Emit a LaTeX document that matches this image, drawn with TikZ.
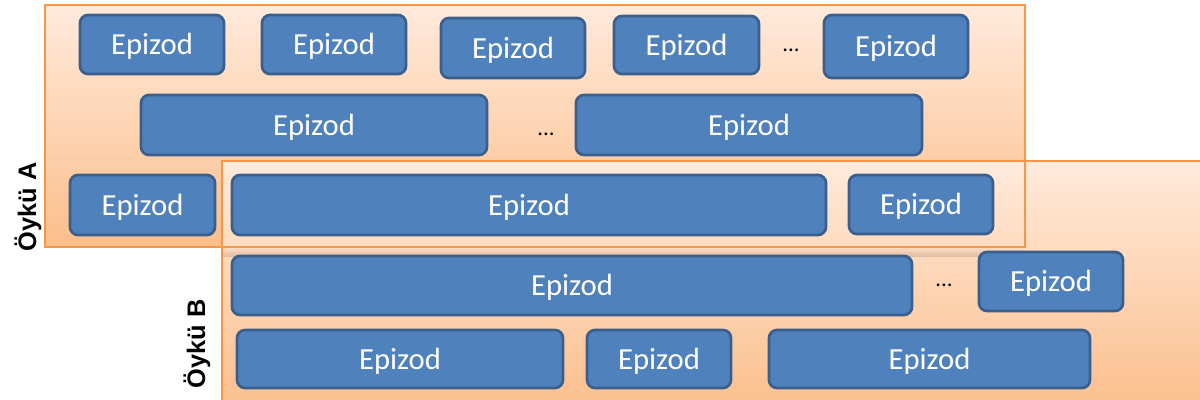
\documentclass[tikz,border=0pt]{standalone}
\usepackage{fontspec}
\setmainfont{Carlito}
\newfontfamily\labfont{Liberation Sans}
\usetikzlibrary{fadings}
\definecolor{panelborder}{HTML}{F79646}
\definecolor{paneltop}{HTML}{FFEADB}
\definecolor{panelbot}{HTML}{FBBE8B}
\definecolor{epfill}{HTML}{4F81BD}
\definecolor{epborder}{HTML}{3A5F8C}
\begin{document}
\begin{tikzpicture}[x=0.75pt,y=-0.75pt,
  panel/.style={top color=paneltop, bottom color=panelbot, draw=none},
  panelline/.style={draw=panelborder, line width=1.4pt},
  ep/.style={draw=epborder, fill=epfill, line width=2pt, rounded corners=6pt,
    inner sep=0pt, text=white, font=\fontsize{23}{27}\selectfont,
    text height=16pt, text depth=1pt},
  bw/.style={minimum width=#1*0.75pt},
  bh/.style={minimum height=#1*0.75pt},
  dots/.style={text=black, font=\fontsize{17}{20}\selectfont, inner sep=0pt},
  lab/.style={rotate=90, text=black, font=\labfont\bfseries\fontsize{19}{23}\selectfont, inner sep=0pt}]
\useasboundingbox (0,0) rectangle (1200,400);
\clip (0,0) rectangle (1200,400);
\fill[white] (0,0) rectangle (1200,400);
% panels
\shade[panel] (45,5) rectangle (1025,247);
\shade[panel] (222,161) rectangle (1215,415);
\fill[black, opacity=0.14, path fading=north] (222,248) rectangle (1025,257);
\draw[panelline] (45,5) rectangle (1025,247);
\draw[panelline] (222,161) rectangle (1215,415);
% labels
\node[lab] (labA) at (28,207) {Öykü A};
\node[lab] (labB) at (197,344) {Öykü B};
% story A, row 1
\node[ep, bw=144, bh=59] (a11) at (152,44.5) {Epizod};
\node[ep, bw=144, bh=59] (a12) at (334,44.5) {Epizod};
\node[ep, bw=144, bh=60] (a13) at (513,48) {Epizod};
\node[ep, bw=145, bh=58] (a14) at (686.5,45) {Epizod};
\node[dots] (d1) at (791,50) {...};
\node[ep, bw=144, bh=63] (a15) at (896,46.5) {Epizod};
% story A, row 2
\node[ep, bw=346, bh=60] (a21) at (314,125) {Epizod};
\node[dots] (d2) at (546,134) {...};
\node[ep, bw=346, bh=60] (a22) at (749,125) {Epizod};
% story A, row 3
\node[ep, bw=145, bh=60] (a31) at (142.5,205) {Epizod};
\node[ep, bw=594, bh=60] (a32) at (529,205) {Epizod};
\node[ep, bw=144, bh=59] (a33) at (921,204.5) {Epizod};
% story B, row 1
\node[ep, bw=680, bh=59] (b11) at (572,285.5) {Epizod};
\node[dots] (d3) at (944,285) {...};
\node[ep, bw=144, bh=59] (b12) at (1051,281.5) {Epizod};
% story B, row 2
\node[ep, bw=326, bh=58] (b21) at (400,359) {Epizod};
\node[ep, bw=144, bh=58] (b22) at (659,359) {Epizod};
\node[ep, bw=321, bh=58] (b23) at (929.5,359) {Epizod};
\end{tikzpicture}
\end{document}
